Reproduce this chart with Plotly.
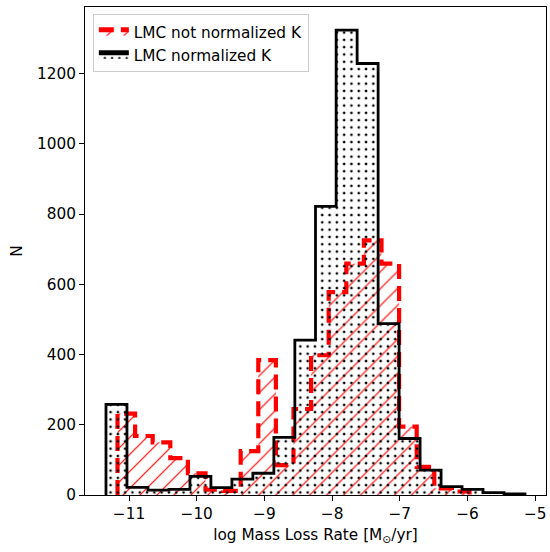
import plotly.graph_objects as go

# ---- data ----
black_edges = [-11.34, -11.03, -10.72, -10.41, -10.10, -9.79, -9.48, -9.17, -8.86, -8.55,
               -8.245, -7.94, -7.63, -7.32, -7.01, -6.70, -6.39, -6.08, -5.77, -5.46, -5.15]
black_counts = [258, 22, 14, 16, 53, 21, 45, 62, 164, 441,
                822, 1324, 1229, 488, 161, 71, 24, 16, 7, 3]

red_edges = [-11.17, -10.91, -10.65, -10.39, -10.13, -9.87, -9.61, -9.35, -9.09, -8.83,
             -8.57, -8.31, -8.05, -7.79, -7.53, -7.27, -7.01, -6.75, -6.49, -6.23, -5.97]
red_counts = [232, 168, 150, 105, 62, 15, 12, 125, 384, 85,
              245, 398, 578, 659, 725, 659, 195, 80, 19, 10]

x_ticks = [-11, -10, -9, -8, -7, -6, -5]
y_ticks = [0, 200, 400, 600, 800, 1000, 1200]

label_red = "LMC not normalized K"
label_black = "LMC normalized K"


def step_xy(edges, counts):
    xs = [edges[0]] + list(edges[:-1]) + [edges[-1], edges[-1]]
    ys = [0] + list(counts) + [counts[-1], 0]
    return xs, ys


FONT = "DejaVu Sans"
FS = 15.3

fig = go.Figure()

rx, ry = step_xy(red_edges, red_counts)
fig.add_trace(go.Scatter(
    x=rx, y=ry, mode="lines", line_shape="hv", name=label_red,
    line=dict(color="red", width=4.2, dash="15px,7px"),
    fill="tozeroy", fillcolor="rgba(0,0,0,0)",
    fillpattern=dict(shape="/", fgcolor="red", bgcolor="rgba(0,0,0,0)",
                     size=12, solidity=0.1, fillmode="replace"),
))

bx, by = step_xy(black_edges, black_counts)
fig.add_trace(go.Scatter(
    x=bx, y=by, mode="lines", line_shape="hv", name=label_black,
    line=dict(color="black", width=2.8),
    fill="tozeroy", fillcolor="rgba(0,0,0,0)",
    fillpattern=dict(shape=".", fgcolor="black", bgcolor="rgba(0,0,0,0)",
                     size=7.3, solidity=0.11, fillmode="replace"),
))

axis_common = dict(
    showline=True, linecolor="black", linewidth=1.1, mirror=True,
    ticks="outside", ticklen=5, tickwidth=1.1, tickcolor="black",
    showgrid=False, zeroline=False,
    tickfont=dict(family=FONT, size=FS, color="black"),
)

fig.update_xaxes(
    range=[-11.65, -4.84], tickvals=x_ticks,
    title=dict(text="log Mass Loss Rate [M<sub>⊙</sub>/yr]",
               font=dict(family=FONT, size=FS, color="black"), standoff=6),
    **axis_common,
)
fig.update_yaxes(
    range=[0, 1390], tickvals=y_ticks,
    title=dict(text="N", font=dict(family=FONT, size=FS, color="black"), standoff=10),
    **axis_common,
)

fig.update_layout(
    width=550, height=552,
    margin=dict(l=84.5, r=4.2, t=6.7, b=57, autoexpand=False),
    paper_bgcolor="white", plot_bgcolor="white",
    font=dict(family=FONT, size=FS, color="black"),
    showlegend=True,
    legend=dict(x=0.017, y=0.985, xanchor="left", yanchor="top",
                bgcolor="rgba(255,255,255,0.8)", bordercolor="#cccccc", borderwidth=1,
                font=dict(family=FONT, size=FS, color="black"),
                tracegroupgap=0, itemsizing="constant"),
)

fig.write_html("out.html")
